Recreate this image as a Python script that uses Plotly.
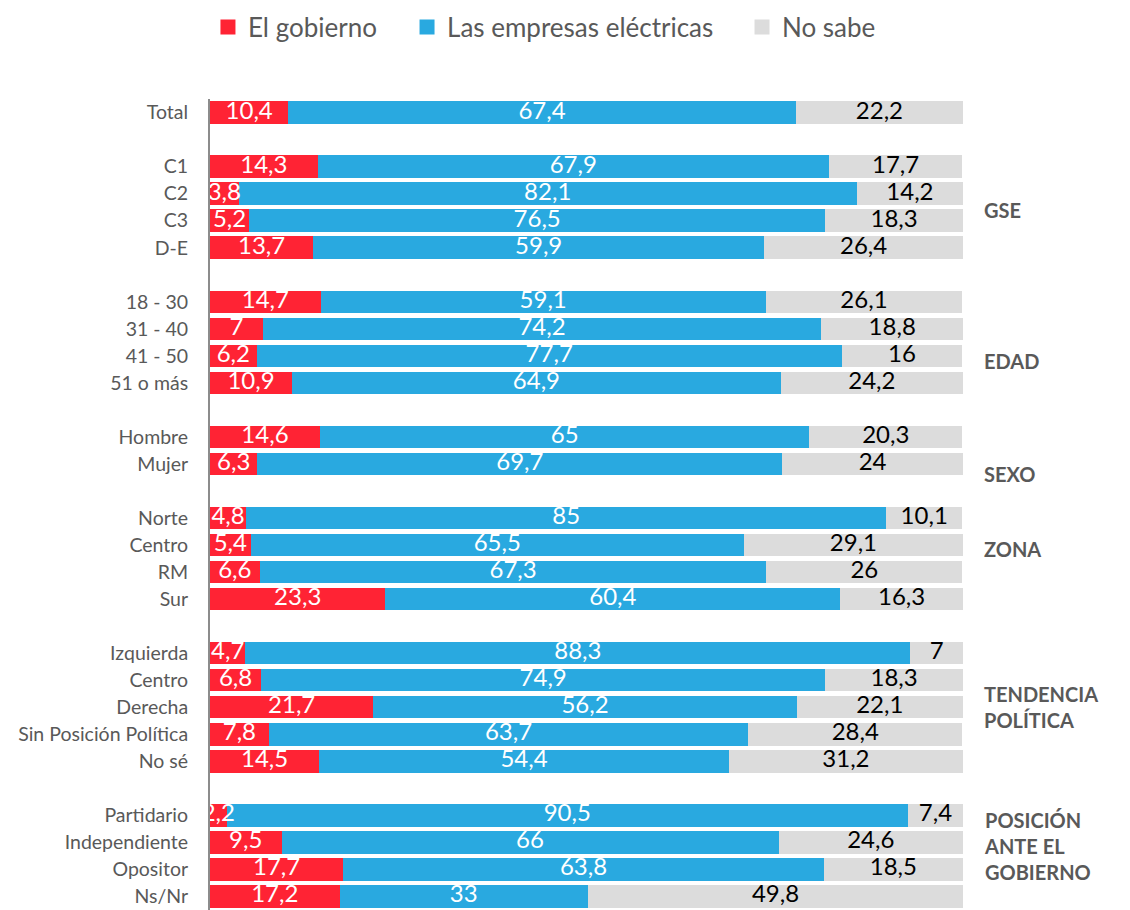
import plotly.graph_objects as go

# ---------------- data ----------------
categories = ["Total",
              "C1", "C2", "C3", "D-E",
              "18 - 30", "31 - 40", "41 - 50", "51 o más",
              "Hombre", "Mujer",
              "Norte", "Centro", "RM", "Sur",
              "Izquierda", "Centro", "Derecha", "Sin Posición Política", "No sé",
              "Partidario", "Independiente", "Opositor", "Ns/Nr"]
group_sizes = [1, 4, 4, 2, 4, 5, 4]
group_labels = ["", "GSE", "EDAD", "SEXO", "ZONA", "TENDENCIA<br>POLÍTICA",
                "POSICIÓN<br>ANTE EL<br>GOBIERNO"]

gobierno = [10.4,
            14.3, 3.8, 5.2, 13.7,
            14.7, 7, 6.2, 10.9,
            14.6, 6.3,
            4.8, 5.4, 6.6, 23.3,
            4.7, 6.8, 21.7, 7.8, 14.5,
            2.2, 9.5, 17.7, 17.2]
empresas = [67.4,
            67.9, 82.1, 76.5, 59.9,
            59.1, 74.2, 77.7, 64.9,
            65, 69.7,
            85, 65.5, 67.3, 60.4,
            88.3, 74.9, 56.2, 63.7, 54.4,
            90.5, 66, 63.8, 33]
no_sabe = [22.2,
           17.7, 14.2, 18.3, 26.4,
           26.1, 18.8, 16, 24.2,
           20.3, 24,
           10.1, 29.1, 26, 16.3,
           7, 18.3, 22.1, 28.4, 31.2,
           7.4, 24.6, 18.5, 49.8]

series_names = ["El gobierno", "Las empresas eléctricas", "No sabe"]

# ---------------- styling ----------------
colors = ["#FF2334", "#29A9E0", "#DCDCDC"]
text_colors = ["white", "white", "black"]
FONT = "Lato"
label_offsets = [0, 0.1, 0.7, 0.86, -0.37, 0, -0.35]
legend_ids = ["legend", "legend2", "legend3"]
legend_x = [0.1795, 0.3582, 0.6589]   # container fractions (left edges)
FIG_W, FIG_H = 1114, 902

# row positions: one blank row between groups
positions = []
group_centers = []
row = 0
for gi, n in enumerate(group_sizes):
    start = row
    for k in range(n):
        positions.append(row)
        row += 1
    group_centers.append((start + row - 1) / 2)
    row += 1  # gap row
n_rows = positions[-1] + 1


def fmt(v):
    return f"{v:g}".replace(".", ",")


fig = go.Figure()
all_series = [gobierno, empresas, no_sabe]
for name, vals, col in zip(series_names, all_series, colors):
    fig.add_trace(go.Bar(
        name=name, x=vals, y=positions, orientation="h",
        marker=dict(color=col, line=dict(width=0)),
        hoverinfo="x+name", showlegend=False, legendgroup=name,
    ))

# labels drawn on top of all bars
base = [0.0] * len(categories)
for name, vals, tc in zip(series_names, all_series, text_colors):
    mids = [b + v / 2 for b, v in zip(base, vals)]
    mids = [min(m, (b + 100) / 2) if b + v > 100 else m for m, b, v in zip(mids, base, vals)]
    fig.add_trace(go.Scatter(
        x=mids, y=positions, mode="text",
        text=[fmt(v) for v in vals],
        textposition="middle center",
        textfont=dict(family=FONT, size=24, color=tc),
        showlegend=False, hoverinfo="skip", cliponaxis=True, legendgroup=name,
    ))
    base = [b + v for b, v in zip(base, vals)]

# legend entries (square swatches)
for name, col, lid in zip(series_names, colors, legend_ids):
    fig.add_trace(go.Scatter(
        x=[None], y=[None], mode="markers", name=name, legend=lid,
        marker=dict(symbol="square", size=15, color=col),
        legendgroup=name, showlegend=True,
    ))

for lbl, c, off in zip(group_labels, group_centers, label_offsets):
    if not lbl:
        continue
    fig.add_annotation(
        x=1.025, xref="paper", xanchor="left",
        y=c + off, yref="y", yanchor="middle",
        text=f"<b>{lbl}</b>", showarrow=False, align="left",
        font=dict(family=FONT, size=20, color="#595959"),
    )

legend_style = dict(orientation="h", xanchor="left", xref="container",
                    y=1 - 19 / FIG_H, yanchor="middle", yref="container",
                    font=dict(family=FONT, size=26, color="#595959"),
                    bgcolor="rgba(0,0,0,0)")
fig.update_layout(
    width=FIG_W, height=FIG_H,
    margin=dict(l=202, r=159, t=91, b=0),
    barmode="stack", bargap=0.17,
    plot_bgcolor="white", paper_bgcolor="white",
    font=dict(family=FONT, color="#595959"),
    legend=dict(x=legend_x[0], **legend_style),
    legend2=dict(x=legend_x[1], **legend_style),
    legend3=dict(x=legend_x[2], **legend_style),
    showlegend=True,
)
fig.update_xaxes(range=[0, 100], showgrid=False, zeroline=False, showticklabels=False,
                 showline=False)
fig.update_yaxes(range=[n_rows - 0.5, -0.5], tickmode="array", tickvals=positions,
                 ticktext=categories, showgrid=False, zeroline=False, ticks="",
                 showline=True, linecolor="#8C8C8C", linewidth=2,
                 tickfont=dict(family=FONT, size=19.5, color="#595959"),
                 ticklabelstandoff=16)

fig.write_html("out.html")
